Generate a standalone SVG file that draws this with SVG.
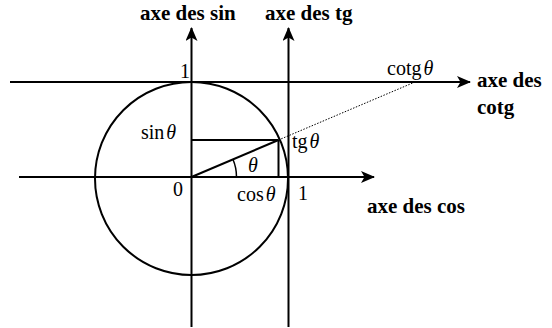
<svg xmlns="http://www.w3.org/2000/svg" width="552" height="328" viewBox="0 0 552 328">
<defs>
<marker id="arr" viewBox="0 0 14 12" refX="13" refY="6" markerWidth="14" markerHeight="12" markerUnits="userSpaceOnUse" orient="auto">
<path d="M0,0 L14,6 L0,12 L3.5,6 z" fill="#000"/>
</marker>
<style>
.ax{stroke:#000;stroke-width:2;fill:none}
.ln{stroke:#000;stroke-width:2;fill:none}
.dot{stroke:#000;stroke-width:1;stroke-dasharray:1.5,1.5;fill:none}
.b{font-family:"Liberation Serif",serif;font-weight:bold;font-size:21px;fill:#000}
.r{font-family:"Liberation Serif",serif;font-size:20px;fill:#000}
.i{font-style:italic}
</style>
</defs>
<rect width="552" height="328" fill="#fff"/>
<g id="connectors">
<line class="ax" x1="10" y1="82" x2="470" y2="82" marker-end="url(#arr)"/>
<line class="ax" x1="19" y1="177" x2="374" y2="177" marker-end="url(#arr)"/>
<line class="ax" x1="191.5" y1="327" x2="191.5" y2="28" marker-end="url(#arr)"/>
<line class="ax" x1="288.5" y1="327" x2="288.5" y2="28" marker-end="url(#arr)"/>
<line class="ln" x1="191.5" y1="177" x2="278.5" y2="140"/>
<line class="ln" x1="191.5" y1="140" x2="278.5" y2="140"/>
<line class="ln" x1="278.5" y1="140" x2="278.5" y2="177"/>
<line class="dot" x1="278.5" y1="140" x2="415" y2="82"/>
<path class="ln" d="M236.5,177 A45,45 0 0 0 232.8,159" style="stroke-width:1.5"/>
</g>
<g id="circle"><circle class="ln" cx="191.5" cy="178.5" r="96.5"/></g>
<g id="labels">
<text class="b" x="140" y="20">axe des sin</text>
<text class="b" x="265" y="20">axe des tg</text>
<text class="b" x="477" y="87">axe des</text>
<text class="b" x="477" y="114">cotg</text>
<text class="b" x="367" y="213">axe des cos</text>
<text class="r" x="180" y="78">1</text>
<text class="r" x="141" y="139">sin<tspan class="i" dx="2">θ</tspan></text>
<text class="r" x="173" y="196">0</text>
<text class="r" x="237" y="201">cos<tspan class="i" dx="2">θ</tspan></text>
<text class="r" x="298" y="200">1</text>
<text class="r" x="292" y="148">tg<tspan class="i" dx="2">θ</tspan></text>
<text class="r" x="387" y="75">cotg<tspan class="i" dx="2">θ</tspan></text>
<text class="r i" x="248" y="172">θ</text>
</g>
</svg>
